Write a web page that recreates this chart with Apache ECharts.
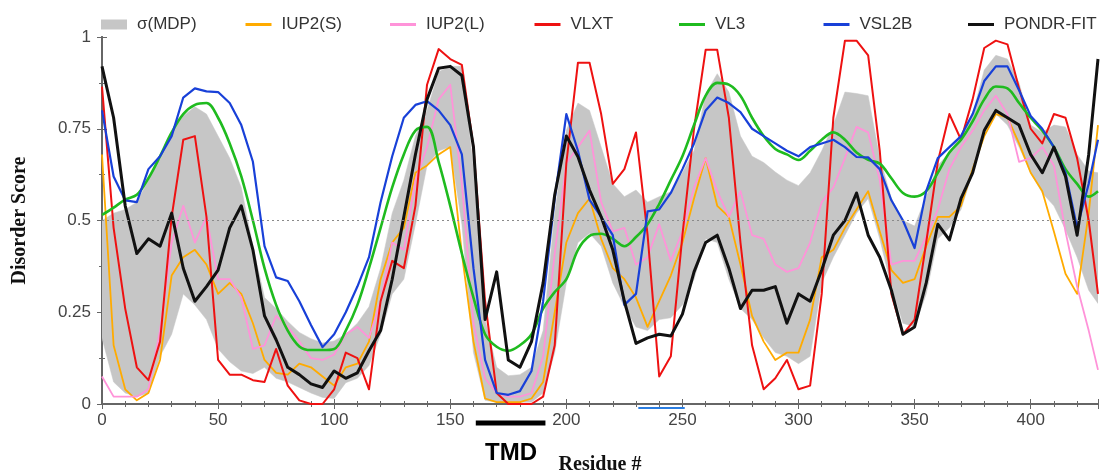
<!DOCTYPE html>
<html>
<head>
<meta charset="utf-8">
<script src="https://cdn.jsdelivr.net/npm/echarts@6.0.0/dist/echarts.min.js"></script>
<style>html,body{margin:0;padding:0;background:#fff}#chart{width:1100px;height:471px}</style>
</head>
<body>
<div id="chart"></div>
<script>
// ---- data (residue grid, step 5) ----
const residues = [0,5,10,15,20,25,30,35,40,45,50,55,60,65,70,75,80,85,90,95,100,105,110,115,120,125,130,135,140,145,150,155,160,165,170,175,180,185,190,195,200,205,210,215,220,225,230,235,240,245,250,255,260,265,270,275,280,285,290,295,300,305,310,315,320,325,330,335,340,345,350,355,360,365,370,375,380,385,390,395,400,405,410,415,420,425,429];

const mdpLower = [.18,.06,.03,.02,.03,.13,.19,.30,.27,.23, .15,.115,.09,.083,.10,.07,.06,.045,.03,.018, .015,.058,.07,.105,.19,.30,.34,.49,.65,.69, .70,.49,.14,.01,.005,.005,.005,.005,.03,.14, .33,.44,.465,.43,.33,.265,.21,.20,.23,.235, .27,.34,.45,.44,.34,.26,.23,.18,.14,.13, .11,.13,.33,.40,.46,.52,.56,.45,.32,.22, .21,.30,.45,.48,.53,.63,.74,.79,.76,.70, .63,.575,.54,.475,.40,.31,.274];
const mdpUpper = [.50,.52,.53,.55,.61,.67,.74,.785,.81,.79, .73,.67,.59,.43,.29,.26,.225,.195,.178,.166, .172,.19,.22,.265,.37,.52,.61,.73,.80,.905, .92,.92,.64,.23,.10,.077,.08,.10,.20,.52, .746,.82,.80,.70,.60,.565,.583,.55,.565,.578, .63,.69,.845,.90,.85,.73,.675,.658,.632,.61, .595,.63,.69,.76,.85,.846,.84,.67,.56,.50, .485,.565,.65,.685,.735,.79,.91,.95,.94,.875, .76,.74,.76,.755,.68,.635,.63];

const iup2S = [.68,.16,.04,.01,.03,.12,.35,.40,.42,.38, .30,.33,.30,.22,.12,.085,.08,.11,.10,.075, .05,.10,.11,.17,.34,.44,.48,.63,.65,.68, .70,.41,.17,.015,.005,.005,.005,.015,.06,.25, .44,.52,.56,.45,.37,.34,.29,.21,.28,.35, .44,.56,.67,.54,.51,.38,.24,.17,.12,.14, .14,.23,.40,.42,.48,.53,.58,.47,.365,.33, .34,.43,.51,.51,.54,.64,.73,.79,.78,.71, .63,.58,.47,.355,.30,.52,.76];
const iup2L = [.075,.02,.02,.02,.04,.20,.44,.54,.44,.51, .34,.34,.29,.15,.16,.24,.21,.17,.125,.12, .135,.19,.21,.18,.28,.44,.42,.61,.70,.83, .87,.60,.22,.07,.03,.02,.02,.03,.13,.41, .656,.70,.745,.55,.47,.48,.38,.40,.49,.39, .47,.59,.67,.58,.51,.58,.46,.45,.38,.36, .37,.44,.55,.59,.67,.755,.74,.61,.38,.39, .39,.456,.53,.64,.70,.745,.80,.84,.79,.66, .67,.70,.65,.47,.32,.20,.093];
const vlxt = [.865,.48,.26,.10,.065,.17,.51,.72,.73,.51, .12,.08,.08,.065,.06,.15,.05,.01,0,0, .04,.14,.125,.04,.28,.39,.37,.54,.87,.967, .94,.924,.70,.28,.03,0,0,0,.02,.16, .656,.93,.93,.79,.60,.64,.74,.46,.075,.13, .46,.75,.965,.965,.78,.44,.16,.04,.07,.12, .04,.05,.30,.78,.99,.99,.95,.69,.30,.19, .23,.44,.66,.79,.72,.83,.97,.99,.98,.86, .75,.71,.79,.78,.67,.50,.30];
const vl3 = [.515,.535,.557,.57,.615,.675,.74,.79,.815,.82, .78,.71,.62,.50,.37,.27,.20,.157,.147,.147, .15,.20,.27,.37,.48,.59,.68,.745,.755,.66, .54,.41,.29,.19,.156,.145,.16,.19,.26,.305, .34,.42,.458,.464,.45,.43,.455,.49,.545,.61, .675,.76,.84,.875,.87,.84,.78,.73,.695,.68, .665,.69,.72,.74,.72,.685,.665,.655,.615,.575, .565,.58,.63,.685,.72,.77,.83,.865,.86,.82, .78,.745,.70,.64,.60,.565,.58];
const vsl2b = [.80,.62,.555,.55,.64,.675,.73,.835,.86,.852, .85,.82,.76,.66,.43,.345,.335,.28,.215,.155, .19,.25,.32,.40,.55,.675,.78,.815,.825,.80, .76,.68,.37,.12,.03,.025,.035,.09,.28,.56, .79,.69,.556,.51,.46,.27,.30,.525,.53,.575, .64,.71,.80,.835,.82,.795,.75,.73,.71,.69, .675,.70,.71,.72,.70,.673,.672,.64,.555,.50, .425,.58,.67,.70,.73,.79,.88,.92,.92,.855, .785,.75,.70,.63,.48,.60,.72];
const pondrFit = [.92,.78,.54,.41,.45,.43,.52,.37,.28,.32, .365,.48,.54,.42,.24,.175,.10,.08,.055,.045, .09,.07,.085,.145,.20,.34,.51,.68,.83,.915, .92,.895,.70,.23,.36,.12,.10,.17,.33,.57, .73,.674,.583,.51,.42,.28,.165,.18,.19,.185, .245,.36,.44,.46,.37,.26,.31,.31,.32,.22, .30,.28,.365,.46,.50,.575,.46,.40,.31,.19, .21,.33,.49,.447,.56,.63,.745,.80,.78,.76, .68,.63,.70,.62,.46,.68,.94];

// annotated residue ranges
const tmdRange = [161, 191];
const segmentRange = [231, 251];

const xTicks = [0, 50, 100, 150, 200, 250, 300, 350, 400];
const yTicks = [0, 0.25, 0.5, 0.75, 1];

// ---- chart ----
const chart = echarts.init(document.getElementById('chart'), null, {renderer: 'canvas'});
const pairs = arr => residues.map((r, i) => [r, arr[i]]);
const bandData = residues.map((r, i) => [r, mdpLower[i], mdpUpper[i]]);

const SANS = '"Liberation Sans", Arial, sans-serif';
const SERIF = '"Liberation Serif", "Times New Roman", serif';
const axisColor = '#666';
const bandColor = '#c6c6c6';

const lineDefs = [
  {name: 'IUP2(S)', data: iup2S, color: '#ffab00', width: 1.8},
  {name: 'IUP2(L)', data: iup2L, color: '#ff93d9', width: 1.8},
  {name: 'VLXT', data: vlxt, color: '#ee1111', width: 2},
  {name: 'VL3', data: vl3, color: '#1fbb1f', width: 2.6, smooth: true},
  {name: 'VSL2B', data: vsl2b, color: '#1840d8', width: 2.2},
  {name: 'PONDR-FIT', data: pondrFit, color: '#111111', width: 3}
];

const legendNames = ['σ(MDP)', 'IUP2(S)', 'IUP2(L)', 'VLXT', 'VL3', 'VSL2B', 'PONDR-FIT'];
const legends = legendNames.map((n, i) => ({
  left: 101 + 144.5 * i,
  top: 16,
  padding: 0,
  itemWidth: 26,
  itemHeight: i === 0 ? 10 : 3,
  selectedMode: false,
  data: [{name: n, icon: 'rect'}],
  textStyle: {fontFamily: SANS, fontSize: 17, color: '#333', padding: [0, 0, 0, 5]}
}));

function rangeBar(offset, color, width) {
  return function (params, api) {
    const s = api.coord([api.value(0), 0]);
    const e = api.coord([api.value(1), 0]);
    return {
      type: 'line',
      shape: {x1: s[0], y1: s[1] + offset, x2: e[0], y2: e[1] + offset},
      style: {stroke: color, lineWidth: width}
    };
  };
}

function bandRender(params, api) {
  if (params.dataIndex !== 0) return null;
  const n = params.dataInsideLength;
  const top = [], bottom = [];
  for (let j = 0; j < n; j++) {
    const x = api.value(0, j);
    top.push(api.coord([x, api.value(2, j)]));
    bottom.push(api.coord([x, api.value(1, j)]));
  }
  const pts = top.concat(bottom.reverse());
  return {
    type: 'polygon',
    shape: {points: pts},
    style: {fill: bandColor, stroke: bandColor, lineWidth: 0.5}
  };
}

const xCommon = {
  type: 'value', min: 0, max: 429, interval: 50,
  splitLine: {show: false},
  axisLine: {show: true, lineStyle: {color: axisColor, width: 2}},
  axisTick: {show: true, inside: true, length: 5, lineStyle: {color: axisColor, width: 1}},
  minorTick: {show: true, splitNumber: 5, length: 3, lineStyle: {color: axisColor, width: 1}}
};
const yCommon = {
  type: 'value', min: 0, max: 1, interval: 0.25,
  splitLine: {show: false},
  axisLine: {show: true, lineStyle: {color: axisColor, width: 2}},
  axisTick: {show: true, inside: true, length: 5, lineStyle: {color: axisColor, width: 1}},
  minorTick: {show: true, splitNumber: 2, length: 3, lineStyle: {color: axisColor, width: 1}}
};

const option = {
  animation: false,
  backgroundColor: '#fff',
  legend: legends,
  grid: {left: 102, right: 2, top: 37, bottom: 67, containLabel: false, outerBoundsMode: 'none'},
  xAxis: [
    Object.assign({}, xCommon, {
      position: 'bottom',
      axisLabel: {fontFamily: SANS, fontSize: 17, color: '#444', margin: 8, showMaxLabel: false,
        formatter: v => (xTicks.indexOf(v) >= 0 ? String(v) : '')},
      name: 'Residue #', nameLocation: 'middle', nameGap: 51,
      nameTextStyle: {fontFamily: SERIF, fontWeight: 'bold', fontSize: 20, color: '#111'}
    }),
    Object.assign({}, xCommon, {position: 'top', axisLabel: {show: false}})
  ],
  yAxis: [
    Object.assign({}, yCommon, {
      position: 'left',
      axisLabel: {fontFamily: SANS, fontSize: 17, color: '#444', margin: 11,
        formatter: v => (yTicks.indexOf(v) >= 0 ? String(v) : '')},
      name: 'Disorder Score', nameLocation: 'middle', nameGap: 72,
      nameTextStyle: {fontFamily: SERIF, fontWeight: 'bold', fontSize: 20, color: '#111'}
    }),
    Object.assign({}, yCommon, {position: 'right', axisLabel: {show: false}})
  ],
  graphic: [{
    type: 'text', left: 485, top: 441,
    style: {text: 'TMD', font: 'bold 24px ' + SANS, fill: '#000'}
  }],
  series: [
    {
      name: 'σ(MDP)', type: 'custom', data: bandData, color: bandColor,
      itemStyle: {color: bandColor},
      encode: {x: 0, y: [1, 2]}, renderItem: bandRender, silent: true, z: 1,
      clip: true
    },
    {
      name: 'ref', type: 'line', data: [], silent: true, z: 2,
      markLine: {
        silent: true, symbol: ['none', 'none'], label: {show: false},
        lineStyle: {type: [2, 3], color: '#8a8a8a', width: 1},
        data: [{yAxis: 0.5}]
      }
    },
    ...lineDefs.map(d => ({
      name: d.name, type: 'line', data: pairs(d.data), color: d.color,
      symbol: 'none', smooth: d.smooth ? 0.35 : false, silent: true, z: 3,
      lineStyle: {color: d.color, width: d.width, join: 'round'}
    })),
    {
      name: 'TMD', type: 'custom', data: [tmdRange], silent: true, z: 5,
      encode: {x: [0, 1]}, renderItem: rangeBar(19, '#000', 5)
    },
    {
      name: 'segment', type: 'custom', data: [segmentRange], silent: true, z: 5,
      encode: {x: [0, 1]}, renderItem: rangeBar(4, '#2a7de1', 2)
    }
  ]
};
chart.setOption(option);
</script>
</body>
</html>
